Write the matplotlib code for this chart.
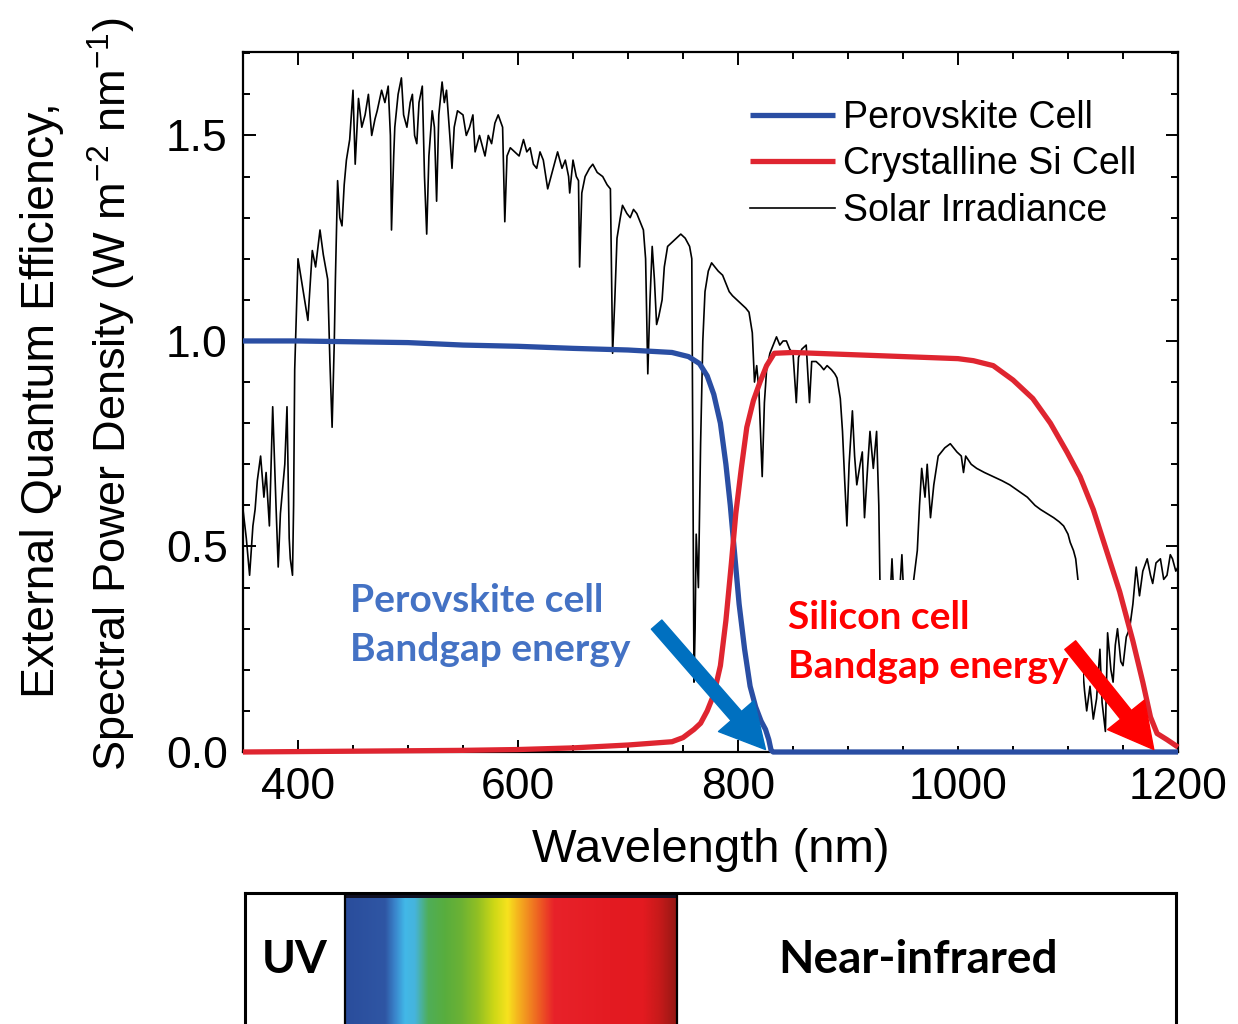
import matplotlib
matplotlib.use("Agg")
import matplotlib.pyplot as plt
import numpy as np
from matplotlib.colors import LinearSegmentedColormap
from matplotlib.patches import FancyArrowPatch, Rectangle
from matplotlib.ticker import MultipleLocator

plt.rcParams["font.family"] = ["Liberation Sans", "DejaVu Sans"]
plt.rcParams["mathtext.fontset"] = "custom"
plt.rcParams["mathtext.rm"] = "Liberation Sans"
plt.rcParams["mathtext.it"] = "Liberation Sans"
plt.rcParams["mathtext.default"] = "regular"

# solar irradiance trace, W m-2 nm-1
irr_nm = [350, 353, 356, 359, 361, 363, 366, 369, 371, 374, 377, 380, 382, 384, 386, 388,
          390, 392, 393, 395, 396, 397, 400, 403, 406, 409, 413, 416, 420, 423, 427, 429,
          431, 433, 434, 436, 438, 440, 442, 444, 447, 450, 452, 455, 458, 461, 464, 467,
          470, 472, 476, 479, 482, 484, 485, 487, 488, 491, 494, 496, 499, 502, 504, 506,
          508, 510, 513, 515, 517, 519, 522, 524, 526, 528, 531, 533, 535, 538, 540, 542,
          545, 550, 553, 556, 559, 561, 565, 570, 573, 576, 579, 582, 586, 588, 590, 593,
          597, 601, 605, 608, 611, 614, 617, 620, 623, 627, 630, 632, 636, 640, 643, 646,
          647, 650, 653, 655, 656, 658, 661, 665, 668, 672, 677, 681, 684, 686, 688, 690,
          693, 695, 699, 702, 705, 708, 711, 714, 716, 718, 720, 722, 724, 726, 728, 731,
          733, 736, 740, 744, 748, 752, 756, 758, 759, 760, 761, 762, 764, 766, 768, 770,
          773, 776, 779, 782, 786, 789, 792, 795, 799, 803, 807, 810, 813, 815, 817, 819,
          822, 824, 826, 829, 832, 835, 838, 841, 844, 847, 850, 853, 855, 858, 862, 865,
          867, 871, 875, 878, 881, 885, 888, 890, 893, 895, 897, 899, 901, 904, 906, 908,
          911, 913, 915, 918, 920, 923, 926, 928, 929, 932, 936, 940, 943, 946, 949, 952,
          957, 963, 965, 967, 970, 972, 975, 978, 982, 985, 988, 993, 999, 1003, 1005, 1007,
          1012, 1017, 1024, 1032, 1040, 1047, 1055, 1063, 1070, 1075, 1081, 1087, 1092, 1096, 1100, 1102,
          1105, 1107, 1109, 1112, 1115, 1117, 1120, 1123, 1126, 1129, 1131, 1134, 1136, 1139, 1141, 1143,
          1145, 1148, 1150, 1153, 1156, 1159, 1162, 1165, 1168, 1172, 1175, 1177, 1180, 1184, 1187, 1190,
          1193, 1195, 1198, 1200]
irr_val = [0.59, 0.52, 0.43, 0.55, 0.59, 0.66, 0.72, 0.62, 0.68, 0.55, 0.84, 0.60, 0.45, 0.58, 0.64, 0.70,
           0.84, 0.52, 0.47, 0.43, 0.60, 0.93, 1.20, 1.15, 1.10, 1.05, 1.22, 1.18, 1.27, 1.21, 1.15, 0.95,
           0.79, 1.00, 1.15, 1.39, 1.30, 1.28, 1.38, 1.44, 1.49, 1.61, 1.43, 1.59, 1.52, 1.55, 1.60, 1.50,
           1.54, 1.56, 1.61, 1.58, 1.62, 1.50, 1.27, 1.45, 1.52, 1.60, 1.64, 1.55, 1.52, 1.58, 1.60, 1.50,
           1.48, 1.58, 1.62, 1.40, 1.26, 1.45, 1.56, 1.52, 1.34, 1.55, 1.63, 1.58, 1.61, 1.50, 1.42, 1.52,
           1.56, 1.55, 1.50, 1.52, 1.55, 1.46, 1.50, 1.45, 1.50, 1.48, 1.53, 1.55, 1.52, 1.29, 1.45, 1.47,
           1.46, 1.45, 1.49, 1.46, 1.47, 1.43, 1.42, 1.46, 1.44, 1.37, 1.40, 1.42, 1.46, 1.42, 1.44, 1.40,
           1.36, 1.44, 1.40, 1.39, 1.18, 1.36, 1.40, 1.42, 1.43, 1.41, 1.40, 1.38, 1.37, 0.97, 1.10, 1.25,
           1.30, 1.33, 1.31, 1.30, 1.32, 1.31, 1.29, 1.27, 1.20, 0.92, 1.10, 1.23, 1.15, 1.04, 1.06, 1.10,
           1.18, 1.23, 1.24, 1.25, 1.26, 1.25, 1.23, 1.20, 0.70, 0.17, 0.30, 0.53, 0.40, 0.75, 1.00, 1.12,
           1.17, 1.19, 1.18, 1.17, 1.16, 1.14, 1.12, 1.11, 1.10, 1.09, 1.08, 1.07, 1.02, 0.90, 0.94, 0.88,
           0.67, 0.85, 0.93, 0.97, 0.99, 1.01, 0.99, 1.00, 1.00, 0.98, 0.97, 0.85, 0.96, 0.98, 0.99, 0.85,
           0.95, 0.95, 0.94, 0.93, 0.94, 0.93, 0.92, 0.91, 0.86, 0.78, 0.66, 0.55, 0.70, 0.83, 0.72, 0.65,
           0.70, 0.73, 0.57, 0.70, 0.78, 0.69, 0.78, 0.60, 0.42, 0.30, 0.25, 0.47, 0.30, 0.35, 0.48, 0.30,
           0.36, 0.49, 0.60, 0.69, 0.62, 0.70, 0.57, 0.65, 0.72, 0.73, 0.74, 0.75, 0.73, 0.72, 0.68, 0.72,
           0.70, 0.69, 0.68, 0.67, 0.66, 0.65, 0.635, 0.62, 0.60, 0.59, 0.58, 0.57, 0.56, 0.55, 0.53, 0.51,
           0.49, 0.47, 0.42, 0.25, 0.15, 0.10, 0.16, 0.08, 0.13, 0.25, 0.12, 0.05, 0.29, 0.20, 0.17, 0.26,
           0.30, 0.22, 0.21, 0.28, 0.30, 0.36, 0.45, 0.38, 0.44, 0.47, 0.43, 0.41, 0.46, 0.47, 0.42, 0.43,
           0.48, 0.47, 0.44, 0.45]

# external quantum efficiency of the two cells
pero_nm = [350, 400, 450, 500, 550, 600, 650, 700, 740, 755, 765, 772, 778, 784, 789, 793,
           797, 801, 806, 811, 816, 821, 825, 828, 830, 832, 1200]
pero_eqe = [1.0, 1.0, 0.998, 0.996, 0.99, 0.987, 0.982, 0.978, 0.972, 0.962, 0.945, 0.915, 0.87,
            0.80, 0.70, 0.60, 0.48, 0.36, 0.25, 0.16, 0.11, 0.075, 0.055, 0.03, 0.005, 0.0, 0.0]

si_nm = [350, 450, 550, 600, 650, 700, 740, 750, 760, 766, 772, 778, 784, 789, 794, 798,
         803, 808, 814, 820, 826, 833, 850, 900, 950, 1000, 1014, 1032, 1050, 1068, 1084, 1099,
         1111, 1123, 1135, 1147, 1159, 1168, 1175, 1181, 1190, 1200]
si_eqe = [0.0, 0.002, 0.004, 0.006, 0.01, 0.017, 0.025, 0.035, 0.055, 0.07, 0.10, 0.14, 0.21,
          0.32, 0.46, 0.58, 0.69, 0.79, 0.855, 0.90, 0.94, 0.97, 0.972, 0.967, 0.962, 0.957, 0.952,
          0.94, 0.905, 0.86, 0.80, 0.73, 0.67, 0.59, 0.49, 0.39, 0.27, 0.17, 0.085, 0.045, 0.03, 0.012]

legend_labels = ["Perovskite Cell", "Crystalline Si Cell", "Solar Irradiance"]

# visible band colours, positions as fraction of the coloured strip
band_pos = [0.0, 0.12, 0.15, 0.18, 0.21, 0.25, 0.30, 0.35, 0.40, 0.45, 0.49, 0.53, 0.58, 0.63,
            0.80, 0.90, 0.95, 1.0]
band_col = ["#2a4d9c", "#2f56a4", "#3a86cc", "#42b8e8", "#46b4dc", "#4fae58", "#58ad3e",
            "#6cb234", "#92c023", "#cfd816", "#f7e21e", "#f4a81f", "#ee6522", "#e8222a",
            "#e41b22", "#e31a20", "#c61a1a", "#951814"]

BLUE = "#2a4ea3"
RED = "#df2530"

fig = plt.figure(figsize=(12.38, 10.24), dpi=100)
ax = fig.add_axes([243 / 1238, 1 - 752 / 1024, 935 / 1238, 700 / 1024])

ax.plot(irr_nm, irr_val, color="black", lw=1.2, zorder=2, label=legend_labels[2])
# white panel under the silicon label hides the trace behind it
ax.add_patch(Rectangle((838, 0.015), 275.6, 0.403, facecolor="white",
                       edgecolor="none", zorder=2.5))
ax.plot(pero_nm, pero_eqe, color=BLUE, lw=3.8, zorder=3, clip_on=False,
        solid_capstyle="butt", label=legend_labels[0])
ax.plot(si_nm, si_eqe, color=RED, lw=3.8, zorder=3, clip_on=False,
        solid_capstyle="butt", label=legend_labels[1])

ax.set_xlim(350, 1200)
ax.set_ylim(0, 1.703)
ax.xaxis.set_major_locator(MultipleLocator(200))
ax.xaxis.set_minor_locator(MultipleLocator(50))
ax.yaxis.set_major_locator(MultipleLocator(0.5))
ax.yaxis.set_minor_locator(MultipleLocator(0.1))
ax.tick_params(which="both", direction="in", top=True, right=True, width=1.4,
               labelsize=32, pad=11)
ax.tick_params(which="major", length=9)
ax.tick_params(which="minor", length=5)
for s in ax.spines.values():
    s.set_linewidth(1.6)
ax.set_xlabel("Wavelength (nm)", fontsize=34, labelpad=14)

fig.text(42 / 1238, 1 - 400 / 1024, "External Quantum Efficiency,", rotation=90,
         ha="center", va="center", fontsize=33.5)
fig.text(112 / 1238, 1 - 394 / 1024,
         "Spectral Power Density (W m$^{-2}$ nm$^{-1}$)", rotation=90,
         ha="center", va="center", fontsize=32.5)

handles, labels = ax.get_legend_handles_labels()
order = [1, 2, 0]
leg = ax.legend([handles[i] for i in order], [labels[i] for i in order],
                loc="upper left", bbox_to_anchor=((750 - 243) / 935, (752 - 100) / 700),
                frameon=False, fontsize=27, handlelength=2.27, handletextpad=0.2,
                labelspacing=0.28, borderpad=0, borderaxespad=0)

# annotations for the two absorption edges
ax.text(350 + (350 - 243) / 1.1, (752 - 583) / 411, "Perovskite cell\nBandgap energy",
        color="#4472c4", fontsize=28, fontweight="bold", family="Lato",
        ha="left", va="top", linespacing=1.5, zorder=4)
ax.text(350 + (788 - 243) / 1.1, (752 - 600) / 411, "Silicon cell\nBandgap energy",
        color="#ff0000", fontsize=28, fontweight="bold", family="Lato",
        ha="left", va="top", linespacing=1.5, zorder=4)

for tail, tip, col in [((726, 0.31), (825, 0.006), "#0070c0"),
                       ((1102, 0.26), (1178, 0.006), "#ff0000")]:
    ax.add_patch(FancyArrowPatch(tail, tip, mutation_scale=1, color=col, zorder=5,
                                 shrinkA=0, shrinkB=0, clip_on=False,
                                 arrowstyle="simple,head_length=32,head_width=34,tail_width=10"))

# spectral band strip underneath
bx = fig.add_axes([245 / 1238, 1 - 1040 / 1024, 931 / 1238, 147 / 1024])
bx.set_xlim(0, 1)
bx.set_ylim(0, 1)
bx.set_xticks([])
bx.set_yticks([])
for s in bx.spines.values():
    s.set_linewidth(2.2)
bx.spines["bottom"].set_visible(False)
cmap = LinearSegmentedColormap.from_list("band", list(zip(band_pos, band_col)))
x0, x1 = (345 - 245) / 931, (677 - 245) / 931
bx.imshow(np.linspace(0, 1, 512)[None, :], cmap=cmap, aspect="auto",
          extent=[x0, x1, 0, 1], zorder=1)
bx.add_patch(Rectangle((x0, 0.965), x1 - x0, 0.035, facecolor="#111122",
                       edgecolor="none", zorder=2))
bx.plot([x0, x0], [0, 1], color="black", lw=1.6, zorder=3)
bx.plot([x1, x1], [0, 1], color="black", lw=1.6, zorder=3)
bx.text((295 - 245) / 931, 1 - (960 - 893) / 147, "UV", fontsize=33, fontweight="bold",
        family="Lato", ha="center", va="center")
bx.text((918 - 245) / 931, 1 - (960 - 893) / 147, "Near-infrared", fontsize=33,
        fontweight="bold", family="Lato", ha="center", va="center")

fig.savefig("out.png", dpi=100)
